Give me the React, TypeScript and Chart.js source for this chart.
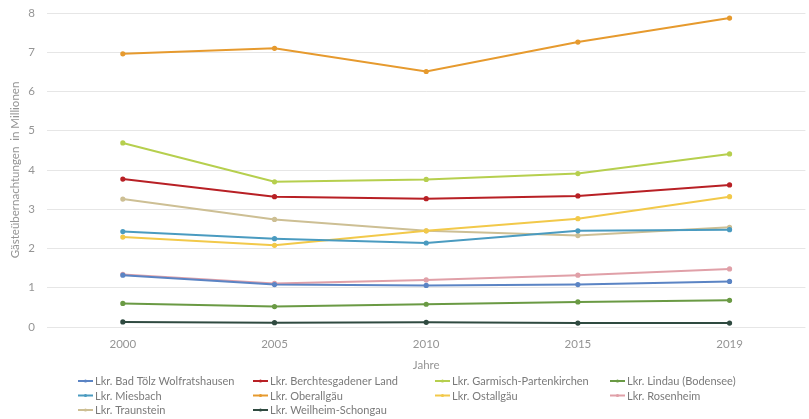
import React, { useEffect, useRef } from "react";
import { Chart, registerables } from "chart.js";

Chart.register(...registerables);

const years = ["2000", "2005", "2010", "2015", "2019"];

const badToelz = [1.32, 1.08, 1.06, 1.08, 1.16];
const berchtesgaden = [3.77, 3.32, 3.27, 3.34, 3.62];
const garmisch = [4.69, 3.7, 3.76, 3.91, 4.41];
const lindau = [0.6, 0.52, 0.58, 0.64, 0.68];
const miesbach = [2.43, 2.25, 2.14, 2.45, 2.48];
const oberallgaeu = [6.96, 7.1, 6.51, 7.26, 7.87];
const ostallgaeu = [2.29, 2.08, 2.45, 2.76, 3.32];
const rosenheim = [1.34, 1.11, 1.2, 1.32, 1.48];
const traunstein = [3.26, 2.74, 2.45, 2.33, 2.54];
const weilheim = [0.13, 0.11, 0.12, 0.1, 0.1];

const seriesNames = [
  "Lkr. Bad Tölz Wolfratshausen",
  "Lkr. Berchtesgadener Land",
  "Lkr. Garmisch-Partenkirchen",
  "Lkr. Lindau (Bodensee)",
  "Lkr. Miesbach",
  "Lkr. Oberallgäu",
  "Lkr. Ostallgäu",
  "Lkr. Rosenheim",
  "Lkr. Traunstein",
  "Lkr. Weilheim-Schongau",
];
const seriesValues = [
  badToelz,
  berchtesgaden,
  garmisch,
  lindau,
  miesbach,
  oberallgaeu,
  ostallgaeu,
  rosenheim,
  traunstein,
  weilheim,
];
const seriesColors = [
  "#5b84c4",
  "#b82025",
  "#b6cf4e",
  "#6a9a44",
  "#4a9bc0",
  "#e69a2e",
  "#f2c94a",
  "#e0a0a8",
  "#cdbf94",
  "#2f4a40",
];

const yTicks = [0, 1, 2, 3, 4, 5, 6, 7, 8];

const FONT = "Lato, 'Open Sans', sans-serif";
const TEXT = "#959595";

// Legend drawn in four fixed columns below the plot
const legendColumns = [78, 253, 435, 610];
const legendRows = [381, 395.5, 410];

const gridLegend = {
  id: "gridLegend",
  afterDraw(chart: any) {
    const ctx = chart.ctx;
    ctx.save();
    ctx.font = `11px ${FONT}`;
    ctx.textBaseline = "middle";
    ctx.textAlign = "left";
    chart.data.datasets.forEach((ds: any, i: number) => {
      const col = i % 4;
      const row = Math.floor(i / 4);
      const x = legendColumns[col];
      const y = legendRows[row];
      ctx.strokeStyle = ds.borderColor;
      ctx.lineWidth = 2;
      ctx.beginPath();
      ctx.moveTo(x, y);
      ctx.lineTo(x + 15, y);
      ctx.stroke();
      ctx.fillStyle = ds.borderColor;
      ctx.beginPath();
      ctx.arc(x + 7.5, y, 1.6, 0, Math.PI * 2);
      ctx.fill();
      ctx.fillStyle = "#7a7a7a";
      ctx.fillText(ds.label, x + 17, y + 0.5);
    });
    ctx.restore();
  },
};

export default function App() {
  const canvasRef = useRef<HTMLCanvasElement>(null);

  useEffect(() => {
    if (!canvasRef.current) return;
    const chart = new Chart(canvasRef.current, {
      type: "line",
      data: {
        labels: years,
        datasets: seriesNames.map((name, i) => ({
          label: name,
          data: seriesValues[i],
          borderColor: seriesColors[i],
          backgroundColor: seriesColors[i],
          borderWidth: 2,
          pointRadius: 1.6,
          pointHoverRadius: 1.6,
          tension: 0,
        })),
      },
      options: {
        responsive: false,
        animation: false,
        layout: { padding: { top: 13, right: 1, bottom: 47, left: 0 } },
        plugins: {
          legend: { display: false },
          tooltip: { enabled: false },
        },
        scales: {
          x: {
            offset: true,
            grid: { display: false, drawTicks: false },
            border: { display: false },
            ticks: {
              padding: 10,
              color: TEXT,
              font: { family: FONT, size: 11.5 },
            },
            title: {
              display: true,
              text: "Jahre",
              color: TEXT,
              font: { family: FONT, size: 11.5 },
              padding: { top: 2, bottom: 0 },
            },
            afterFit(scale: any) {
              scale.height = 45;
              scale.paddingLeft = 0;
              scale.paddingRight = 0;
            },
          },
          y: {
            min: 0,
            max: 8,
            afterBuildTicks(scale: any) {
              scale.ticks = yTicks.map((v) => ({ value: v }));
            },
            grid: { color: "#e6e6e6", lineWidth: 1, drawTicks: false },
            border: { display: false },
            ticks: {
              padding: 12,
              color: TEXT,
              font: { family: FONT, size: 11.5 },
            },
            title: {
              display: true,
              text: "Gästeübernachtungen  in Millionen",
              color: TEXT,
              font: { family: FONT, size: 11.5 },
              padding: { top: 8, bottom: 0 },
            },
            afterFit(scale: any) {
              scale.width = 47;
              scale.paddingTop = 0;
              scale.paddingBottom = 0;
            },
          },
        },
      },
      plugins: [gridLegend],
    });
    return () => chart.destroy();
  }, []);

  return (
    <div
      style={{
        position: "fixed",
        left: 0,
        top: 0,
        width: 809,
        height: 419,
        background: "#ffffff",
      }}
    >
      <canvas ref={canvasRef} width={809} height={419} />
    </div>
  );
}
